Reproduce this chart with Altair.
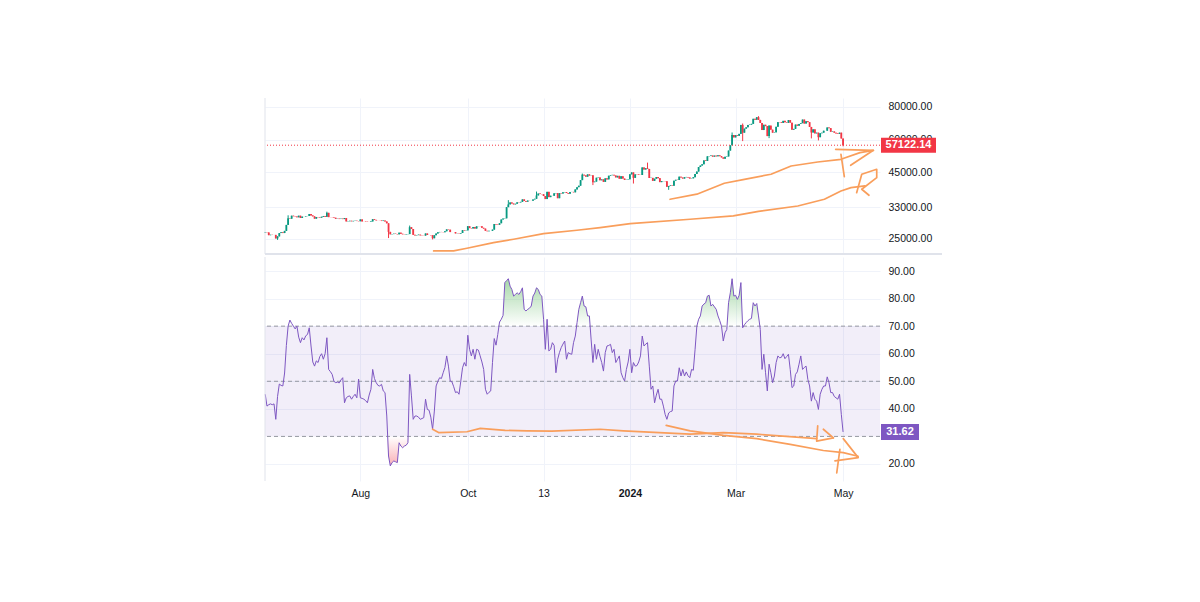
import altair as alt
import pandas as pd

START = "2023-06-08"
FIRST_OPEN = 26350
LAST_PRICE = 57122.14
LAST_RSI = 31.62

# daily closes 2023-06-08 .. 2024-05-01
closes = [
    26500, 26480, 25850, 25940, 25900, 25920, 25120, 25580, 26330, 26510, 26340, 26850, 28300, 30000, 29890,
    30690, 30550, 30470, 30270, 30690, 30080, 30450, 30470,
    30590, 30620, 31160, 30770, 30510, 29900, 30350, 30290, 30170, 30410, 30620, 30390, 31480, 30310, 30290,
    30250, 30140, 29860, 29910, 29800, 29910, 29790, 30080, 29180, 29230, 29350, 29220, 29320, 29360, 29280, 29230,
    29700, 29180, 29190, 29110, 29050, 29040, 29180, 29770, 29580, 29450, 29420, 29400, 29280, 29410, 29170,
    28700, 26620, 26050, 26100, 26190, 26120, 26050, 26430, 26170, 26050, 26010, 26090, 26100, 27730, 27300, 25930,
    25800, 25870, 25970, 25810, 25780, 25750, 26240, 25900, 25890, 25830, 25160, 25840, 26230, 26530, 26600,
    26570, 26530, 26760, 27210, 27130, 26570, 26580, 26580, 26260, 26300, 26220, 26350, 27020, 26910, 26970,
    27990, 27510, 27430, 27790, 27410, 27950, 27970, 27940, 27590, 27390, 26870, 26760, 26860, 26860, 27150,
    28520, 28420, 28330, 28720, 29680, 29920, 29990, 33090, 33900, 34500, 34160, 33910, 34090, 34540, 34500, 34670,
    35440, 34940, 34730, 35080, 35050, 35040, 35420, 35630, 36700, 37310, 37130, 37070, 36500, 35540, 37880,
    36150, 36600, 36580, 37390, 37460, 35810, 37420, 37290, 37720, 37800, 37480, 37250, 37830, 37850, 37720,
    38690, 39460, 39980, 41990, 44080, 43770, 43290, 44170, 43720, 43790, 41240, 41450, 42890, 43020, 41940,
    42260, 41360, 42660, 42270, 43650, 43860, 43990, 43740, 43020, 43610, 42520, 43440, 42580, 42070, 42140, 42280,
    44180, 44950, 42850, 44180, 44160, 43970, 43930, 46970, 46110, 46630, 46340, 42780, 42840, 41730, 42510,
    43150, 42740, 41260, 41620, 41660, 41580, 39570, 39890, 40080, 39930, 41800, 42120, 42030, 43300, 42950, 42580,
    43080, 43190, 42990, 42580, 42660, 43090, 44340, 45290, 47130, 47750, 48290, 49960, 49700, 51800, 51910,
    52150, 51660, 52120, 51780, 52260, 51850, 51300, 50730, 51570, 51730, 54480, 57050, 62500, 61200,
    62400, 62030, 63130, 68300, 63800, 66100, 66900, 68300, 68500, 68950, 72100, 71500, 73100, 71400, 69500,
    65300, 68400, 67600, 61900, 67900, 65500, 63800, 64000, 67200, 70000, 69900, 69500, 70800, 69900, 69600, 71300,
    69700, 65500, 65960, 68500, 67840, 68900, 69360, 71600, 69140, 70600, 70000, 67100, 63900, 65700, 63400,
    63800, 61300, 63500, 63800, 64900, 64900, 66800, 66400, 64300, 64500, 63800, 63400, 63100, 63800, 60600,
    57122.14,
]

# notable wicks (high, low)
wicks = {
    "2023-06-15": (None, 24800), "2023-06-21": (30800, None), "2023-07-13": (31800, None),
    "2023-08-17": (None, 25200), "2023-08-29": (28140, None), "2023-09-11": (None, 24900),
    "2023-10-24": (35200, None), "2023-11-09": (37970, None), "2023-12-05": (44490, None),
    "2023-12-11": (None, 40200), "2024-01-03": (None, 40750), "2024-01-11": (49000, None),
    "2024-01-23": (None, 38550), "2024-02-28": (63900, None), "2024-03-05": (69170, 59220),
    "2024-03-14": (73780, None), "2024-03-20": (None, 60800), "2024-04-13": (None, 60660),
    "2024-04-17": (None, 59600), "2024-05-01": (None, 56550),
}

# RSI(14) daily values
rsi = [
    45.3, 41, 41.5, 41.8, 41.5, 41.8, 36.2, 44.5, 49, 48.5,
    48.3, 53, 63, 70, 72.2, 71, 70, 69, 70, 66,
    64, 65.8, 65, 66.5, 67, 69.4, 62.8, 57, 55.5, 57.4,
    56.8, 59, 60, 58, 60, 65.8, 54.3, 53.5, 52.5, 50,
    49.5, 49.7, 49.4, 50.5, 51.3, 42.2, 44, 44.5, 44.7, 43.5,
    44.5, 45.3, 44, 50.8, 44, 43.8, 43.5, 43, 42.2, 45,
    47.1, 54.3, 51, 49.5, 48.5, 48.3, 48.9, 46.5, 45.9, 37.4,
    22.9, 19.3, 20.5, 21.1, 20.8, 20.5, 27.7, 26.5, 25.9, 26.5,
    26.8, 27.7, 52.5, 44.7, 36.2, 37.4, 37.4, 37.0, 36.2, 36.5,
    36.8, 43.5, 39.8, 39.5, 37, 32.6, 39.2, 48.3, 50, 51.3,
    51, 53.1, 55, 59.2, 55.5, 50.1, 49.8, 48, 45.9, 46.2,
    45.3, 50, 54.9, 56.8, 55.5, 66.7, 61.6, 59.2, 61.6, 58,
    61.6, 61.3, 59.2, 57, 54.3, 47.1, 45.3, 46, 46.5, 56.8,
    65.5, 63.1, 67, 71.5, 72.5, 73.9, 85.8, 86.5, 87.2, 84.5,
    83.3, 80.9, 81.5, 82.1, 81.5, 82.5, 83.9, 76.1, 75.5, 76.1,
    76.5, 77.3, 80.9, 82, 83.9, 83.3, 81.5, 80.9, 72.5, 61.6,
    72.5, 61, 61.6, 64, 63, 53.1, 58, 60.4, 62.2, 63.5,
    64.6, 58, 60.4, 60, 59.8, 64, 66.4, 71.3, 76.1, 78.5,
    80.9, 77.3, 77, 73.7, 73.7, 65, 56.8, 63.4, 58, 61.6,
    59, 56.8, 53.7, 60.4, 62.8, 63, 63.4, 60.4, 61.6, 56.8,
    58, 59.2, 53.1, 51.3, 50.1, 54.3, 57, 61.6, 53.1, 56.8,
    55.5, 55.7, 57, 59.2, 66.4, 62.8, 63.5, 64, 55.5, 47.1,
    48.3, 42.2, 45, 47.1, 43.5, 43.5, 41, 38, 36.2, 38.5,
    39, 39.2, 48.3, 50.1, 50.1, 54.9, 51.9, 54.3, 51.9, 53.4,
    52, 51.3, 54.3, 54, 61.6, 70, 72.5, 73.7, 77.3, 78,
    78.5, 80.9, 81.2, 77.3, 77.9, 77, 76.1, 73.7, 72, 70,
    64.6, 67.6, 68.8, 78.5, 82.1, 87.2, 80.9, 81.2, 79.7, 81.2,
    85.8, 69.4, 70.5, 71.3, 72, 72.5, 72.8, 78.5, 77.3, 78.2,
    73.7, 68.8, 54.3, 59.8, 53.1, 46.5, 56.2, 53.1, 49.5, 51.9,
    56.8, 59.2, 58.5, 58.7, 60, 58.2, 59, 59.8, 54.3, 47.7,
    48.3, 52.5, 53.4, 56.2, 59.2, 54.3, 55, 55.5, 50.7, 48.3,
    42.8, 45.9, 43.5, 42.8, 39.8, 45.3, 47.1, 48.3, 48.3, 51.6,
    49.5, 45.9, 45.9, 44.5, 44, 43.5, 45.3, 38, 31.62,
]

# hand-drawn annotation strokes: (days after START, value)
price_strokes = {
    "a1": [(95.6, 22500), (106.9, 22500), (114.5, 23040), (129.6, 24200), (141.0, 24940), (158.0, 26200),
           (176.9, 27000), (190.1, 27630), (207.2, 28600), (241.2, 29750), (265.7, 30640), (280.0, 31900),
           (302.3, 33440), (317.4, 35470), (326.8, 38170), (332.5, 39300), (340.4, 39890)],
    "a2": [(335.7, 37600), (338.6, 44220), (347.1, 46210), (347.1, 42910), (338.6, 38750), (342.7, 36750)],
    "b1": [(229.8, 35470), (245.0, 37100), (260.6, 40850), (272.0, 42300), (287.1, 44220), (298.5, 47560),
           (313.6, 49280), (326.8, 50460), (337.6, 53490), (345.2, 54620)],
    "b2": [(323.8, 55110), (345.2, 54620), (332.3, 47870)],
    "b3": [(326.8, 52740), (328.7, 43290)],
}
rsi_strokes = {
    "r1": [(95.0, 32.6), (98.4, 31.4), (114.5, 31.7), (122.1, 32.9), (136.2, 32.2), (148.6, 32.0),
           (162.7, 31.9), (190.1, 32.6), (203.3, 32.0), (241.2, 30.8), (260.1, 31.4), (279.0, 30.8),
           (307.4, 29.5), (313.0, 29.2)],
    "r2": [(313.6, 33.8), (313.0, 28.3), (322.5, 29.5)],
    "r3": [(316.8, 32.6), (322.5, 29.5)],
    "r4": [(227.6, 34), (241.2, 32), (260.1, 30.4), (279.0, 29.2), (298.0, 27.1), (316.8, 24.9),
           (328.1, 24.1), (336.5, 22.8)],
    "r5": [(328.1, 29.2), (336.6, 22.3), (323.4, 21.1)],
    "r6": [(326.2, 25.3), (324.4, 16.8)],
}

price_ticks = [25000, 33000, 45000, 60000, 80000]
rsi_ticks = [20, 40, 50, 60, 70, 80, 90]   # 30.00 is hidden behind the value tag
rsi_levels = [70, 50, 30]
x_ticks = [(2023, 8, 1), (2023, 10, 1), (2023, 11, 13), (2024, 1, 1), (2024, 3, 1), (2024, 5, 1)]

GREEN = "#089981"
RED = "#F23645"
PURPLE = "#7E57C2"
ORANGE = "#F99E5B"
GRID = "#f0f3fa"
BORDER = "#e0e3eb"
TEXT = "#131722"
FONT = "Liberation Sans"

W, H1, H2 = 615, 156, 224
X_DOMAIN = ["2023-06-07T21:00:00", "2024-05-21T23:00:00"]
PRICE_DOMAIN = [21900, 86600]
RSI_DOMAIN = [13.83, 95.08]

# ---------- data frames ----------
dates = pd.date_range(START, periods=len(closes), freq="D")
opens = [FIRST_OPEN] + closes[:-1]
rows = []
for d, o, c in zip(dates, opens, closes):
    key = d.strftime("%Y-%m-%d")
    hi, lo = max(o, c), min(o, c)
    if key in wicks:
        wh, wl = wicks[key]
        if wh is not None:
            hi = wh
        if wl is not None:
            lo = wl
    rows.append({"date": d.strftime("%Y-%m-%dT%H:%M:%S"), "open": o, "close": c, "high": hi, "low": lo,
                 "blo": min(o, c), "bhi": max(o, c), "dir": "up" if c >= o else "down"})
candles = pd.DataFrame(rows)

rsi_dates = pd.date_range(START, periods=len(rsi), freq="D")
rsi_df = pd.DataFrame({"date": [d.strftime("%Y-%m-%dT%H:%M:%S") for d in rsi_dates], "rsi": rsi})
rsi_df["hi"] = [max(v, 70) for v in rsi]
rsi_df["lo"] = [min(v, 30) for v in rsi]
rsi_df["top"] = 70
rsi_df["bot"] = 30


def strokes_df(strokes):
    out = []
    base = pd.Timestamp(START)
    for name, pts in strokes.items():
        for i, (dd, v) in enumerate(pts):
            t = base + pd.Timedelta(days=dd)
            out.append({"stroke": name, "i": i, "date": t.strftime("%Y-%m-%dT%H:%M:%S"), "v": v})
    return pd.DataFrame(out)


pann = strokes_df(price_strokes)
rann = strokes_df(rsi_strokes)

last_price_df = pd.DataFrame({"v": [LAST_PRICE], "label": [f"{LAST_PRICE:.2f}"]})
last_rsi_df = pd.DataFrame({"v": [LAST_RSI], "label": [f"{LAST_RSI:.2f}"]})
levels_df = pd.DataFrame({"v": rsi_levels})
band_df = pd.DataFrame({"hi": [70], "lo": [30]})
top_edge_df = pd.DataFrame({"date": [X_DOMAIN[0]], "a": [PRICE_DOMAIN[0]], "b": [PRICE_DOMAIN[1]]})
bot_edge_df = pd.DataFrame({"date": [X_DOMAIN[0]], "a": [RSI_DOMAIN[0]], "b": [RSI_DOMAIN[1]]})

xt_values = [alt.DateTime(year=y, month=m, date=d) for y, m, d in x_ticks]
xscale = alt.Scale(domain=X_DOMAIN, padding=0, nice=False)
pscale = alt.Scale(type="log", domain=PRICE_DOMAIN, nice=False, padding=0)
rscale = alt.Scale(domain=RSI_DOMAIN, nice=False, zero=False, padding=0)

# identical axis objects for every layer so that merging keeps all settings
X_TOP_AXIS = alt.Axis(values=xt_values, labels=False, ticks=False, domain=False, grid=True,
                      gridColor=GRID, title=None)
X_BOT_AXIS = alt.Axis(
    values=xt_values,
    labelExpr="month(datum.value) == 0 ? '2024' : (date(datum.value) == 13 ? '13' : timeFormat(datum.value, '%b'))",
    labelFontWeight={"condition": {"test": "month(datum.value) == 0", "value": "bold"}, "value": "normal"},
    grid=True, gridColor=GRID, ticks=False, domain=False, labelPadding=7, labelColor=TEXT,
    labelFont=FONT, labelFontSize=10.5, labelOverlap=False, labelBound=False, labelFlush=False, title=None,
)
P_AXIS = alt.Axis(orient="right", values=price_ticks, format=".2f", ticks=False, domain=False,
                  grid=True, gridColor=GRID, labelPadding=8, labelColor=TEXT, labelFont=FONT,
                  labelFontSize=10.5, labelOverlap=False, labelBound=False, labelFlush=False, title=None)
R_AXIS = alt.Axis(orient="right", values=rsi_ticks, format=".2f", ticks=False, domain=False,
                  grid=True, gridColor=GRID, labelPadding=8, labelColor=TEXT, labelFont=FONT,
                  labelFontSize=10.5, labelOverlap=False, labelBound=False, labelFlush=False, title=None)


def XT(field="date:T"):
    return alt.X(field, scale=xscale, axis=X_TOP_AXIS)


def XB(field="date:T"):
    return alt.X(field, scale=xscale, axis=X_BOT_AXIS)


def YP(field):
    return alt.Y(field, scale=pscale, axis=P_AXIS)


def YR(field):
    return alt.Y(field, scale=rscale, axis=R_AXIS)


# ---------- top panel ----------
dir_color = alt.Color("dir:N", scale=alt.Scale(domain=["up", "down"], range=[GREEN, RED]), legend=None)

wick_layer = alt.Chart(candles).mark_rule(strokeWidth=1).encode(
    x=XT(), y=YP("low:Q"), y2="high:Q", color=dir_color,
)
body_layer = alt.Chart(candles).mark_bar(size=1.8).encode(
    x=XT(), y=YP("blo:Q"), y2="bhi:Q", color=dir_color,
)
price_line = alt.Chart(last_price_df).mark_rule(color=RED, strokeDash=[1, 2], strokeWidth=1).encode(
    y=YP("v:Q")
)
left_border_top = alt.Chart(top_edge_df).mark_rule(color=BORDER, strokeWidth=1).encode(
    x=XT(), y=YP("a:Q"), y2="b:Q"
)
separator = alt.Chart(top_edge_df).mark_rule(color=BORDER, strokeWidth=2).encode(
    x=alt.value(0), x2=alt.value(W + 62), y=YP("a:Q")
)
pann_layer = alt.Chart(pann).mark_line(color=ORANGE, strokeWidth=1.7, strokeCap="round",
                                       strokeJoin="round").encode(
    x=XT(), y=YP("v:Q"), detail="stroke:N", order="i:Q",
)
price_tag = alt.Chart(last_price_df).mark_rule(color=RED, strokeWidth=15).encode(
    x=alt.value(W + 1), x2=alt.value(W + 56), y=YP("v:Q")
)
price_tag_text = alt.Chart(last_price_df).mark_text(
    color="white", fontWeight="bold", font=FONT, fontSize=11, align="center", baseline="middle"
).encode(x=alt.value(W + 28.5), y=YP("v:Q"), text="label:N")

top = alt.layer(
    wick_layer, body_layer, price_line, left_border_top, separator, pann_layer, price_tag, price_tag_text
).properties(width=W, height=H1)

# ---------- bottom panel ----------
rsi_line = alt.Chart(rsi_df).mark_line(color=PURPLE, strokeWidth=1).encode(
    x=XB(), y=YR("rsi:Q"),
)
band = alt.Chart(band_df).mark_rect(color=PURPLE, opacity=0.1).encode(
    x=alt.value(0), x2=alt.value(W), y=YR("hi:Q"), y2="lo:Q"
)
dashed = alt.Chart(levels_df).mark_rule(color="#9598a1", strokeDash=[4, 3], strokeWidth=1).encode(
    y=YR("v:Q")
)
green_fill = alt.Chart(rsi_df).mark_area(
    color=alt.Gradient(gradient="linear",
                       stops=[alt.GradientStop(color="rgba(76,175,80,0)", offset=0),
                              alt.GradientStop(color="rgba(76,175,80,0.5)", offset=1)],
                       x1=1, x2=1, y1=1, y2=0)
).encode(x=XB(), y=YR("hi:Q"), y2="top:Q")
red_fill = alt.Chart(rsi_df).mark_area(
    color=alt.Gradient(gradient="linear",
                       stops=[alt.GradientStop(color="rgba(242,54,69,0)", offset=0),
                              alt.GradientStop(color="rgba(242,54,69,0.4)", offset=1)],
                       x1=1, x2=1, y1=0, y2=1)
).encode(x=XB(), y=YR("bot:Q"), y2="lo:Q")
left_border_bot = alt.Chart(bot_edge_df).mark_rule(color=BORDER, strokeWidth=1).encode(
    x=XB(), y=YR("a:Q"), y2="b:Q"
)
rann_layer = alt.Chart(rann).mark_line(color=ORANGE, strokeWidth=1.7, strokeCap="round",
                                       strokeJoin="round").encode(
    x=XB(), y=YR("v:Q"), detail="stroke:N", order="i:Q",
)
rsi_tag = alt.Chart(last_rsi_df).mark_rule(color=PURPLE, strokeWidth=16).encode(
    x=alt.value(W + 1), x2=alt.value(W + 39), y=YR("v:Q")
)
rsi_tag_text = alt.Chart(last_rsi_df).mark_text(
    color="white", fontWeight="bold", font=FONT, fontSize=11, align="center", baseline="middle"
).encode(x=alt.value(W + 20), y=YR("v:Q"), text="label:N")

bottom = alt.layer(
    band, green_fill, red_fill, dashed, rsi_line, left_border_bot, rann_layer, rsi_tag, rsi_tag_text
).properties(width=W, height=H2)

chart = alt.vconcat(top, bottom, spacing=3, bounds="flush").properties(
    padding={"left": 255, "top": 89, "right": 10, "bottom": 10},
    background="white",
).configure_view(stroke=None)

chart.save("out.html", embed_options={"renderer": "svg", "actions": False})
